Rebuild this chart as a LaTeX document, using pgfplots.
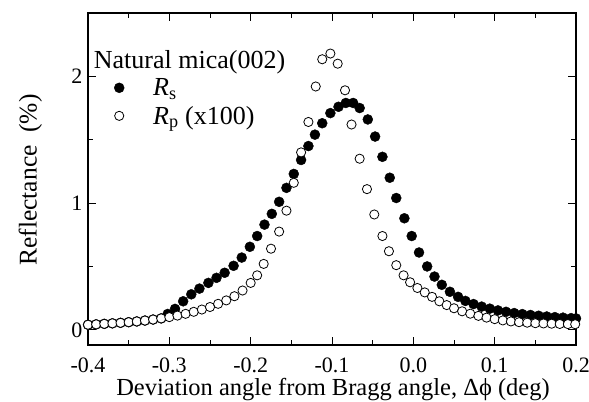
\documentclass[border=0pt]{standalone}
\usepackage{pgfplots}
\pgfplotsset{compat=1.18}
\usepackage{fontspec}
\setmainfont{Liberation Serif}

\begin{document}
\begin{tikzpicture}
\begin{axis}[
  width=488pt, height=332pt, scale only axis,
  xmin=-0.4, xmax=0.2, ymin=-0.12, ymax=2.5,
  axis line style={line width=1.2pt},
  xtick={-0.4,-0.3,-0.2,-0.1,0,0.1,0.2},
  xticklabels={-0.4,-0.3,-0.2,-0.1,0.0,0.1,0.2},
  minor xtick={-0.35,-0.25,-0.15,-0.05,0.05,0.15},
  ytick={0,1,2}, yticklabels={0,1,2},
  minor ytick={0.5,1.5},
  tick align=inside,
  major tick length=8pt, minor tick length=5pt,
  every tick/.style={line width=1pt, black},
  tick label style={font=\fontsize{22}{26}\selectfont},
  /pgf/number format/assume math mode=true,
  xticklabel style={inner sep=1pt, yshift=-12pt},
  yticklabel style={xshift=-2pt},
  xlabel={Deviation angle from Bragg angle, Δϕ (deg)},
  ylabel={Reflectance~~(\%)},
  label style={font=\fontsize{25.5}{30}\selectfont},
  xlabel style={at={(axis description cs:0.502,-0.133)}, anchor=center, inner sep=1pt, font=\fontsize{24.5}{29}\selectfont},
  ylabel style={at={(axis description cs:-0.118,0.497)}, anchor=center, rotate=0},
  legend style={at={(axis cs:-0.368,2.00)}, anchor=north west, draw=none, fill=none,
    font=\fontsize{26}{30}\selectfont, row sep=5pt, inner sep=0pt},
  legend cell align=left,
  legend image code/.code={\draw[#1] plot coordinates {(8pt,0pt)};},
]
\addplot[only marks, mark=*, mark size=5pt, mark options={fill=black, draw=black}] coordinates {
(-0.400,0.040) (-0.390,0.043) (-0.380,0.047) (-0.370,0.051) (-0.360,0.055)
(-0.350,0.060) (-0.340,0.066) (-0.330,0.073) (-0.320,0.081) (-0.310,0.090)
(-0.302,0.125) (-0.293,0.165) (-0.283,0.225) (-0.273,0.280) (-0.263,0.325)
(-0.252,0.370) (-0.242,0.410) (-0.232,0.450) (-0.221,0.505) (-0.211,0.570)
(-0.201,0.655) (-0.192,0.740) (-0.183,0.830) (-0.174,0.915) (-0.165,1.010)
(-0.156,1.120) (-0.147,1.230) (-0.138,1.340) (-0.129,1.450) (-0.121,1.540)
(-0.112,1.630) (-0.102,1.710) (-0.092,1.760) (-0.083,1.790) (-0.074,1.790)
(-0.066,1.750) (-0.056,1.660) (-0.047,1.525) (-0.038,1.365) (-0.029,1.200)
(-0.021,1.040) (-0.011,0.880) (-0.002,0.740) (0.007,0.610) (0.017,0.500)
(0.026,0.420) (0.035,0.355) (0.045,0.300) (0.055,0.260) (0.064,0.228)
(0.074,0.203) (0.084,0.183) (0.094,0.167) (0.104,0.153) (0.114,0.142)
(0.124,0.132) (0.134,0.124) (0.144,0.117) (0.154,0.111) (0.164,0.105)
(0.174,0.100) (0.184,0.096) (0.194,0.092) (0.200,0.090)
};
\addlegendentry{\hspace{27pt}{\itshape R}\textsubscript{s}}
\addplot[only marks, mark=*, mark size=4.6pt, mark options={fill=white, draw=black, line width=0.8pt}] coordinates {
(-0.400,0.040) (-0.390,0.043) (-0.380,0.047) (-0.370,0.051) (-0.360,0.055)
(-0.350,0.060) (-0.340,0.066) (-0.330,0.073) (-0.320,0.081) (-0.310,0.090)
(-0.300,0.100) (-0.290,0.112) (-0.280,0.126) (-0.270,0.142) (-0.260,0.160)
(-0.250,0.180) (-0.240,0.205) (-0.230,0.232) (-0.220,0.265) (-0.210,0.310)
(-0.200,0.370) (-0.192,0.430) (-0.184,0.520) (-0.175,0.640) (-0.165,0.775)
(-0.156,0.940) (-0.147,1.160) (-0.138,1.400) (-0.129,1.640) (-0.120,1.920)
(-0.112,2.135) (-0.102,2.180) (-0.093,2.100) (-0.084,1.890) (-0.076,1.620)
(-0.066,1.350) (-0.057,1.110) (-0.048,0.910) (-0.038,0.740) (-0.030,0.620)
(-0.021,0.510) (-0.012,0.430) (-0.004,0.375) (0.005,0.330) (0.014,0.295)
(0.023,0.260) (0.032,0.225) (0.041,0.195) (0.050,0.170) (0.060,0.146)
(0.070,0.127) (0.080,0.110) (0.090,0.096) (0.100,0.084) (0.110,0.074)
(0.120,0.066) (0.130,0.060) (0.140,0.056) (0.150,0.052) (0.160,0.050)
(0.170,0.048) (0.180,0.046) (0.190,0.045) (0.199,0.044)
};
\addlegendentry{\hspace{27pt}{\itshape R}\textsubscript{p} (x100)}
\node[anchor=west, font=\fontsize{26}{30}\selectfont, inner sep=0pt] at (axis cs:-0.393,2.11) {Natural mica(002)};
\end{axis}
\pgfresetboundingbox
\path ([shift={(-88pt,-56pt)}]current axis.south west) rectangle ([shift={(13pt,13pt)}]current axis.north east);
\end{tikzpicture}
\end{document}
